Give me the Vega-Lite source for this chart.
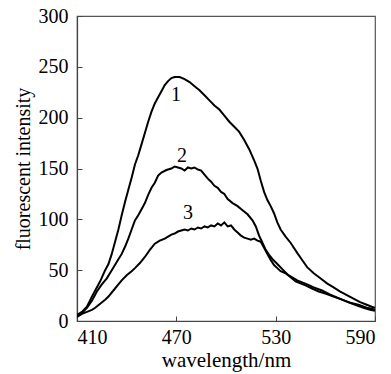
{
  "$schema": "https://vega.github.io/schema/vega-lite/v6.json",
  "width": 298,
  "height": 305,
  "autosize": "none",
  "padding": {"left": 77, "top": 16, "right": 16, "bottom": 53},
  "config": {
    "font": "Liberation Serif",
    "view": {"stroke": "#555", "strokeWidth": 1.2},
    "axis": {
      "grid": false,
      "domainColor": "#444",
      "domainWidth": 1.2,
      "tickColor": "#444",
      "tickSize": -5,
      "labelFont": "Liberation Serif",
      "labelFontSize": 20,
      "labelColor": "#000",
      "titleFont": "Liberation Serif",
      "titleFontWeight": "normal",
      "titleColor": "#000"
    }
  },
  "datasets": {
    "curves": [
      {"s":"1","x":410,"y":6},{"s":"1","x":413,"y":9},{"s":"1","x":416,"y":14},{"s":"1","x":419,"y":24},{"s":"1","x":421,"y":30},{"s":"1","x":424,"y":39},{"s":"1","x":427,"y":50},{"s":"1","x":429,"y":56},{"s":"1","x":431,"y":66},{"s":"1","x":433,"y":78},{"s":"1","x":435,"y":90},{"s":"1","x":437,"y":104},{"s":"1","x":439,"y":117},{"s":"1","x":441,"y":129},{"s":"1","x":443,"y":141},{"s":"1","x":445,"y":154},{"s":"1","x":447,"y":163},{"s":"1","x":449,"y":174},{"s":"1","x":451,"y":185},{"s":"1","x":453,"y":196},{"s":"1","x":455,"y":206},{"s":"1","x":457,"y":214},{"s":"1","x":459,"y":220},{"s":"1","x":461,"y":226},{"s":"1","x":463,"y":232},{"s":"1","x":465,"y":236},{"s":"1","x":467,"y":239},{"s":"1","x":469,"y":240},{"s":"1","x":472,"y":240},{"s":"1","x":475,"y":238},{"s":"1","x":478,"y":235},{"s":"1","x":481,"y":231},{"s":"1","x":484,"y":227},{"s":"1","x":487,"y":222},{"s":"1","x":490,"y":217},{"s":"1","x":493,"y":212},{"s":"1","x":496,"y":208},{"s":"1","x":499,"y":202},{"s":"1","x":502,"y":196},{"s":"1","x":505,"y":191},{"s":"1","x":508,"y":186},{"s":"1","x":511,"y":178},{"s":"1","x":514,"y":169},{"s":"1","x":517,"y":158},{"s":"1","x":519,"y":150},{"s":"1","x":521,"y":138},{"s":"1","x":523,"y":127},{"s":"1","x":525,"y":119},{"s":"1","x":527,"y":113},{"s":"1","x":529,"y":106},{"s":"1","x":531,"y":97},{"s":"1","x":533,"y":90},{"s":"1","x":536,"y":83},{"s":"1","x":539,"y":77},{"s":"1","x":543,"y":67},{"s":"1","x":546,"y":60},{"s":"1","x":549,"y":53},{"s":"1","x":553,"y":47},{"s":"1","x":557,"y":42},{"s":"1","x":561,"y":37},{"s":"1","x":565,"y":33},{"s":"1","x":569,"y":29},{"s":"1","x":573,"y":25.5},{"s":"1","x":577,"y":22},{"s":"1","x":581,"y":18.5},{"s":"1","x":585,"y":16},{"s":"1","x":588,"y":14},{"s":"1","x":590,"y":13},
      {"s":"2","x":410,"y":5},{"s":"2","x":413,"y":8},{"s":"2","x":416,"y":13},{"s":"2","x":419,"y":20},{"s":"2","x":422,"y":29},{"s":"2","x":425,"y":36},{"s":"2","x":428,"y":42},{"s":"2","x":431,"y":50},{"s":"2","x":434,"y":58},{"s":"2","x":437,"y":66},{"s":"2","x":439,"y":73},{"s":"2","x":441,"y":81},{"s":"2","x":443,"y":90},{"s":"2","x":445,"y":99},{"s":"2","x":447,"y":104},{"s":"2","x":449,"y":110},{"s":"2","x":451,"y":116},{"s":"2","x":453,"y":124},{"s":"2","x":455,"y":131},{"s":"2","x":457,"y":136},{"s":"2","x":459,"y":143},{"s":"2","x":461,"y":146},{"s":"2","x":464,"y":148.5},{"s":"2","x":467,"y":150},{"s":"2","x":469,"y":152},{"s":"2","x":471,"y":151},{"s":"2","x":473,"y":150},{"s":"2","x":475,"y":148},{"s":"2","x":477,"y":151},{"s":"2","x":479,"y":150},{"s":"2","x":481,"y":151},{"s":"2","x":483,"y":149},{"s":"2","x":485,"y":148},{"s":"2","x":487,"y":144},{"s":"2","x":489,"y":140},{"s":"2","x":491,"y":137},{"s":"2","x":493,"y":133},{"s":"2","x":495,"y":131},{"s":"2","x":497,"y":127},{"s":"2","x":499,"y":125},{"s":"2","x":501,"y":120},{"s":"2","x":504,"y":116},{"s":"2","x":507,"y":113},{"s":"2","x":510,"y":109},{"s":"2","x":513,"y":105},{"s":"2","x":516,"y":99},{"s":"2","x":518,"y":93},{"s":"2","x":520,"y":84},{"s":"2","x":522,"y":77},{"s":"2","x":524,"y":70},{"s":"2","x":526,"y":65},{"s":"2","x":528,"y":61},{"s":"2","x":531,"y":56},{"s":"2","x":534,"y":51},{"s":"2","x":537,"y":46},{"s":"2","x":540,"y":43},{"s":"2","x":543,"y":40},{"s":"2","x":546,"y":38},{"s":"2","x":549,"y":36},{"s":"2","x":553,"y":33},{"s":"2","x":558,"y":30},{"s":"2","x":563,"y":26},{"s":"2","x":568,"y":22.5},{"s":"2","x":573,"y":19},{"s":"2","x":578,"y":16},{"s":"2","x":583,"y":13},{"s":"2","x":587,"y":11},{"s":"2","x":590,"y":10},
      {"s":"3","x":410,"y":4},{"s":"3","x":413,"y":7},{"s":"3","x":416,"y":9},{"s":"3","x":419,"y":11},{"s":"3","x":421,"y":13},{"s":"3","x":424,"y":17},{"s":"3","x":427,"y":21},{"s":"3","x":429,"y":24},{"s":"3","x":432,"y":30},{"s":"3","x":435,"y":36},{"s":"3","x":437,"y":40},{"s":"3","x":440,"y":45},{"s":"3","x":443,"y":49},{"s":"3","x":445,"y":52},{"s":"3","x":448,"y":57},{"s":"3","x":451,"y":63},{"s":"3","x":454,"y":70},{"s":"3","x":457,"y":76},{"s":"3","x":460,"y":79},{"s":"3","x":463,"y":81},{"s":"3","x":465,"y":83},{"s":"3","x":467,"y":85},{"s":"3","x":469,"y":86},{"s":"3","x":471,"y":88},{"s":"3","x":473,"y":89},{"s":"3","x":475,"y":90},{"s":"3","x":477,"y":89},{"s":"3","x":479,"y":91},{"s":"3","x":481,"y":90},{"s":"3","x":483,"y":92},{"s":"3","x":485,"y":91},{"s":"3","x":487,"y":93},{"s":"3","x":489,"y":92},{"s":"3","x":491,"y":94},{"s":"3","x":493,"y":93},{"s":"3","x":495,"y":96},{"s":"3","x":497,"y":94},{"s":"3","x":499,"y":97},{"s":"3","x":501,"y":93},{"s":"3","x":503,"y":94},{"s":"3","x":505,"y":90},{"s":"3","x":507,"y":87},{"s":"3","x":509,"y":84},{"s":"3","x":511,"y":82},{"s":"3","x":513,"y":81},{"s":"3","x":515,"y":80},{"s":"3","x":517,"y":81},{"s":"3","x":519,"y":79},{"s":"3","x":521,"y":78},{"s":"3","x":523,"y":72},{"s":"3","x":525,"y":66},{"s":"3","x":527,"y":60},{"s":"3","x":529,"y":55},{"s":"3","x":531,"y":52},{"s":"3","x":533,"y":49},{"s":"3","x":536,"y":47},{"s":"3","x":539,"y":43},{"s":"3","x":542,"y":39},{"s":"3","x":545,"y":37},{"s":"3","x":548,"y":35},{"s":"3","x":552,"y":32},{"s":"3","x":556,"y":29},{"s":"3","x":560,"y":27},{"s":"3","x":565,"y":24},{"s":"3","x":570,"y":21},{"s":"3","x":575,"y":18},{"s":"3","x":580,"y":16},{"s":"3","x":585,"y":13},{"s":"3","x":588,"y":12},{"s":"3","x":590,"y":11}
    ],
    "labels": [
      {"t":"1","x":469.8,"y":222},
      {"t":"2","x":473.4,"y":162},
      {"t":"3","x":477,"y":106}
    ]
  },
  "layer": [
    {
      "data": {"name": "curves"},
      "mark": {"type": "line", "color": "#000", "strokeWidth": 2, "clip": true},
      "encoding": {
        "x": {"field": "x", "type": "quantitative",
              "scale": {"domain": [410, 590], "nice": false, "zero": false},
              "axis": {"values": [410, 470, 530, 590], "title": "wavelength/nm", "labelPadding": 11, "titlePadding": 2, "titleFontSize": 21}},
        "y": {"field": "y", "type": "quantitative",
              "scale": {"domain": [0, 300], "nice": false},
              "axis": {"values": [0, 50, 100, 150, 200, 250, 300], "title": "fluorescent intensity", "labelPadding": 14, "titlePadding": 5, "titleFontSize": 20}},
        "detail": {"field": "s"}
      }
    },
    {
      "data": {"name": "labels"},
      "mark": {"type": "text", "fontSize": 20, "font": "Liberation Serif", "color": "#000"},
      "encoding": {
        "x": {"field": "x", "type": "quantitative"},
        "y": {"field": "y", "type": "quantitative"},
        "text": {"field": "t"}
      }
    }
  ]
}
